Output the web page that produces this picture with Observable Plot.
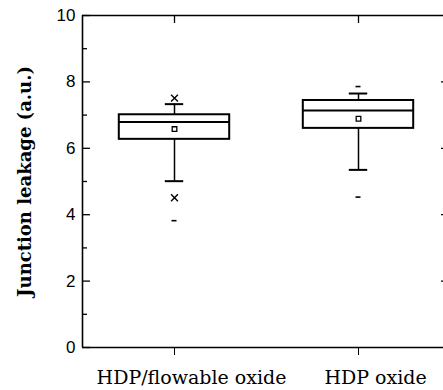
<!DOCTYPE html>
<html>
<head>
<meta charset="utf-8">
<script src="https://cdn.jsdelivr.net/npm/d3@7"></script>
<script src="https://cdn.jsdelivr.net/npm/@observablehq/plot@0.6"></script>
<style>
  html, body { margin: 0; padding: 0; background: #fff; }
  #chart svg { display: block; }
</style>
</head>
<body>
<div id="chart"></div>
<script>
// ---- data ----
const categories   = ["HDP/flowable oxide", "HDP oxide"];
const q1           = [6.27, 6.60];
const median       = [6.79, 7.14];
const q3           = [7.01, 7.44];
const whiskerLow   = [5.01, 5.35];
const whiskerHigh  = [7.33, 7.65];
const mean         = [6.58, 6.89];
const crossCat     = [0, 0];          // × markers (1% / 99%)
const crossVal     = [7.51, 4.51];
const dashCat      = [0, 1, 1];       // min / max markers
const dashVal      = [3.82, 4.53, 7.86];
const yTicks       = [0, 2, 4, 6, 8, 10];
const yMinorTicks  = [1, 3, 5, 7, 9];
const yLabel       = "Junction leakage (a.u.)";

// ---- tables built from the arrays ----
const boxes = categories.map((c, i) => ({
  i, c, q1: q1[i], med: median[i], q3: q3[i],
  lo: whiskerLow[i], hi: whiskerHigh[i], mean: mean[i]
}));
const crosses = crossCat.map((c, k) => ({i: c, v: crossVal[k]}));
const dashes = dashCat.map((c, k) => ({i: c, v: dashVal[k]}));
const idx = categories.map((_, i) => i);

const BW = 0.3, CW = 0.05;
const ux = 1 / 184, uy = 1 / 33.2;   // approximately one pixel in data units

const chart = Plot.plot({
  width: 443,
  height: 390,
  marginLeft: 82,
  marginTop: 15,
  marginBottom: 43,
  marginRight: 0,
  style: {background: "#fff", color: "#000"},
  x: {type: "linear", domain: [-0.5, 1.5], range: [82, 450]},
  y: {domain: [0, 10], range: [347, 15]},
  marks: [
    // frame
    Plot.ruleY([0, 10], {stroke: "#000", strokeWidth: 1.6}),
    Plot.ruleX([-0.5], {stroke: "#000", strokeWidth: 1.6}),
    // inward ticks on left axis
    Plot.ruleY(yTicks, {x1: -0.5, x2: -0.5 + 8 * ux, stroke: "#000", strokeWidth: 1.3}),
    Plot.ruleY(yMinorTicks, {x1: -0.5, x2: -0.5 + 5 * ux, stroke: "#000", strokeWidth: 1.3}),
    // right axis inward ticks
    Plot.ruleY(yTicks.filter(t => t > 0 && t < 10), {x1: 1.5 - 9 * ux, x2: 1.5, stroke: "#000", strokeWidth: 1.3}),
    // top inward ticks at categories
    Plot.ruleX(idx, {x: d => d, y1: 10, y2: 10 - 8 * uy, stroke: "#000", strokeWidth: 1.3}),
    // axes labels
    Plot.axisY({ticks: yTicks, tickSize: 0, tickPadding: 7, fontSize: 17,
      fontFamily: "Liberation Sans, Arial, sans-serif", label: null}),
    Plot.axisX({ticks: idx, tickSize: 8, tickFormat: () => "", label: null}),
    Plot.text(idx, {x: d => d, y: 0, text: i => categories[i], dx: 17, dy: 30,
      fontSize: 19, fontFamily: "DejaVu Serif, serif", fill: "#000"}),
    Plot.text([yLabel], {frameAnchor: "left", dx: -57, rotate: -90, textAnchor: "middle", fontSize: 18,
      fontWeight: "bold", fontFamily: "DejaVu Serif, serif", fill: "#000"}),
    // whiskers
    Plot.ruleX(boxes, {x: "i", y1: "q3", y2: "hi", stroke: "#000", strokeWidth: 1.5}),
    Plot.ruleX(boxes, {x: "i", y1: "q1", y2: "lo", stroke: "#000", strokeWidth: 1.5}),
    Plot.ruleY(boxes, {y: "hi", x1: d => d.i - CW, x2: d => d.i + CW, stroke: "#000", strokeWidth: 2}),
    Plot.ruleY(boxes, {y: "lo", x1: d => d.i - CW, x2: d => d.i + CW, stroke: "#000", strokeWidth: 2}),
    // boxes
    Plot.rect(boxes, {x1: d => d.i - BW, x2: d => d.i + BW, y1: "q1", y2: "q3",
      fill: "#fff", stroke: "#000", strokeWidth: 2}),
    Plot.ruleY(boxes, {y: "med", x1: d => d.i - BW, x2: d => d.i + BW, stroke: "#000", strokeWidth: 2}),
    // mean
    Plot.dot(boxes, {x: "i", y: "mean", symbol: "square", r: 2.6, stroke: "#000", fill: "#fff", strokeWidth: 1.3}),
    // × markers
    Plot.dot(crosses, {x: "i", y: "v", symbol: "times", r: 3.2, stroke: "#000", strokeWidth: 1.4}),
    // min / max dashes
    Plot.ruleY(dashes, {y: "v", x1: d => d.i - 2.5 * ux, x2: d => d.i + 2.5 * ux, stroke: "#000", strokeWidth: 1.6})
  ]
});
document.getElementById("chart").appendChild(chart);
</script>
</body>
</html>
